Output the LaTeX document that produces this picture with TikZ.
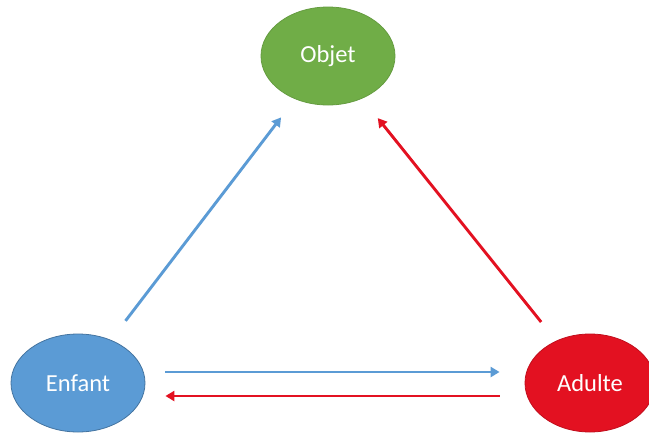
\documentclass[tikz,border=0pt]{standalone}
\usepackage{fontspec}
\setmainfont{Carlito}
\usetikzlibrary{shapes.geometric,arrows.meta}
\definecolor{cgreen}{RGB}{112,173,71}
\definecolor{cblue}{RGB}{91,155,213}
\definecolor{cred}{RGB}{227,17,33}
\tikzset{
  bubble/.style={ellipse, minimum width=134pt, minimum height=98pt, inner sep=0pt,
    text=white, font=\fontsize{24.5}{28}\selectfont, line width=0.8pt},
  link/.style={line width=2.9pt, -{Triangle[length=9pt,width=10pt]}},
}
\begin{document}
\begin{tikzpicture}[x=1pt,y=-1pt]
\clip (0,0) rectangle (649,432);
\fill[white] (0,0) rectangle (649,432);
\node[bubble, fill=cgreen, draw=cgreen!90!black] (objet) at (328,56) {Objet};
\node[bubble, fill=cblue, draw=cblue!75!black] (enfant) at (78,383) {Enfant};
\node[bubble, fill=cred, draw=cred!85!black, minimum width=130pt] (adulte) at (590,383) {Adulte};
\draw[link, cblue, shorten <=24pt, shorten >=23pt] (enfant) -- (objet);
\draw[link, cred, shorten <=24pt, shorten >=25pt] (adulte) -- (objet);
\draw[link, cblue, shorten <=20pt, shorten >=25pt] ([yshift=11pt]enfant.east) -- ([yshift=11pt]adulte.west);
\draw[link, cred, shorten <=25pt, shorten >=20pt] ([yshift=-13pt]adulte.west) -- ([yshift=-13pt]enfant.east);
\end{tikzpicture}
\end{document}
